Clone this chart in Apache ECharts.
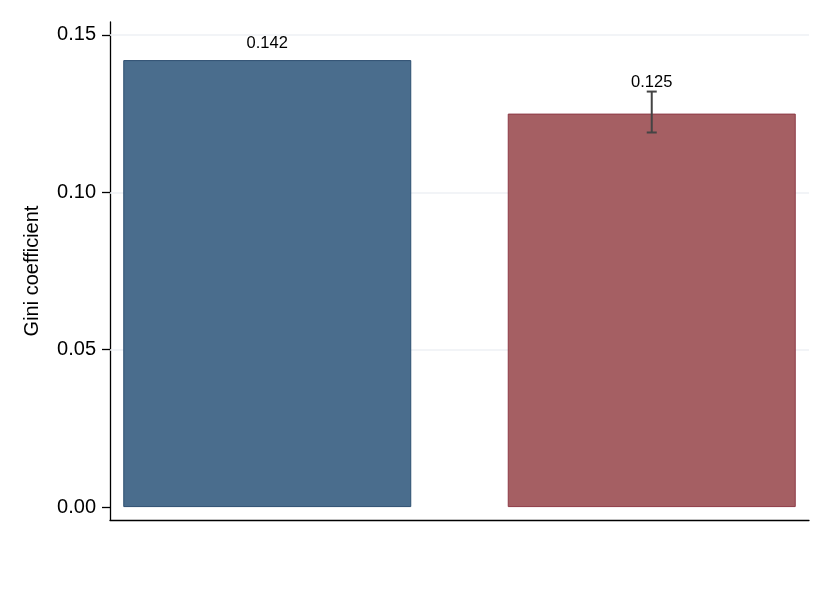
<!DOCTYPE html>
<html>
<head>
<meta charset="utf-8">
<script src="https://cdn.jsdelivr.net/npm/echarts@6/dist/echarts.min.js"></script>
<style>html,body{margin:0;padding:0;background:#fff}#c{width:830px;height:604px}</style>
</head>
<body>
<div id="c"></div>
<script>
const positions = [1, 2];
const values = [0.142, 0.125];
const ciLow = [null, 0.119];
const ciHigh = [null, 0.132];
const valueLabels = ['0.142', '0.125'];
const yTicks = [0, 0.05, 0.10, 0.15];
const yTickLabels = ['0.00', '0.05', '0.10', '0.15'];
const gridValues = [0.05, 0.10, 0.15];

const fills = ['#4a6d8d', '#a55f63'];
const borders = ['#2d4f70', '#8e3a46'];

const chart = echarts.init(document.getElementById('c'), null, {renderer: 'canvas'});
const barData = positions.map((p, i) => ({
  value: [p, values[i]],
  itemStyle: {color: fills[i], borderColor: borders[i], borderWidth: 1},
  label: {show: ciHigh[i] == null}
}));
const errData = positions.map((p, i) => [p, ciLow[i], ciHigh[i], i]).filter(d => d[1] != null);

chart.setOption({
  animation: false,
  backgroundColor: '#fff',
  grid: {left: 110, right: 21, top: 22, bottom: 84},
  xAxis: {
    type: 'value', min: 0.591, max: 2.409,
    axisLine: {show: true, onZero: false, lineStyle: {color: '#000', width: 1.3}},
    axisTick: {show: false}, axisLabel: {show: false}, splitLine: {show: false}
  },
  yAxis: {
    type: 'value', min: -0.0041, max: 0.1541,
    name: 'Gini coefficient', nameLocation: 'middle', nameGap: 68, nameRotate: 90,
    nameTextStyle: {color: '#000', fontSize: 20, fontFamily: 'Liberation Sans, Arial, sans-serif'},
    axisLine: {show: true, onZero: false, lineStyle: {color: '#000', width: 1.3}},
    axisTick: {show: true, length: 8, customValues: yTicks, lineStyle: {color: '#000', width: 1.3}},
    axisLabel: {
      customValues: yTicks, margin: 14, color: '#000', fontSize: 20,
      fontFamily: 'Liberation Sans, Arial, sans-serif',
      formatter: v => { const i = yTicks.findIndex(t => Math.abs(t - v) < 1e-9); return i >= 0 ? yTickLabels[i] : ''; }
    },
    splitLine: {show: false}
  },
  series: [
    {
      type: 'bar', data: barData, barWidth: 288, z: 3,
      label: {position: 'top', distance: 8, color: '#000', fontSize: 16.5,
        fontFamily: 'Liberation Sans, Arial, sans-serif',
        formatter: p => valueLabels[p.dataIndex]},
      markLine: {
        silent: true, symbol: 'none', label: {show: false}, z: 1,
        lineStyle: {color: '#eef1f4', width: 1.5, type: 'solid'},
        data: gridValues.map(v => ({yAxis: v}))
      }
    },
    {
      type: 'custom', z: 5, data: errData,
      renderItem: (params, api) => {
        const x = api.value(0);
        const lo = api.coord([x, api.value(1)]);
        const hi = api.coord([x, api.value(2)]);
        const idx = api.value(3);
        const st = {stroke: '#444', lineWidth: 2};
        const cap = 5;
        return {type: 'group', children: [
          {type: 'line', shape: {x1: lo[0], y1: lo[1], x2: hi[0], y2: hi[1]}, style: st},
          {type: 'line', shape: {x1: lo[0] - cap, y1: lo[1], x2: lo[0] + cap, y2: lo[1]}, style: st},
          {type: 'line', shape: {x1: hi[0] - cap, y1: hi[1], x2: hi[0] + cap, y2: hi[1]}, style: st},
          {type: 'text', x: hi[0], y: hi[1] - 1, style: {text: valueLabels[idx], fill: '#000',
            font: '16.5px "Liberation Sans", Arial, sans-serif', align: 'center', verticalAlign: 'bottom'}}
        ]};
      }
    }
  ]
});
</script>
</body>
</html>
